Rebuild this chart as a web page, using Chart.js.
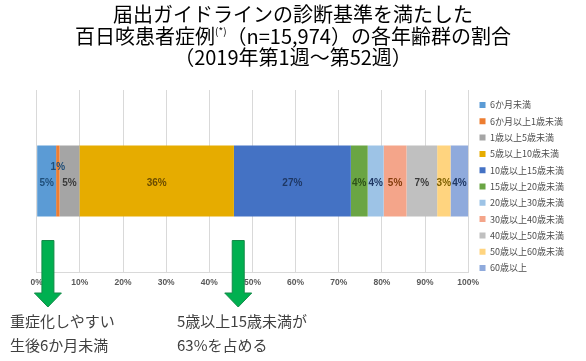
<!DOCTYPE html>
<html><head><meta charset="utf-8">
<script src="https://cdn.jsdelivr.net/npm/chart.js@4"></script>
<style>
html,body{margin:0;padding:0;background:#fff;}
#wrap{position:relative;width:586px;height:361px;overflow:hidden;}
canvas{position:absolute;left:0;top:0;}
.t{position:absolute;left:0;width:586px;text-align:center;font-family:"Noto Sans CJK JP";font-size:20px;line-height:21.5px;color:#000;white-space:nowrap;}
.t sup{font-size:10px;line-height:10px;vertical-align:top;position:relative;top:1px;}
.note{position:absolute;font-family:"Noto Sans CJK JP";font-size:15px;line-height:24px;color:#404040;white-space:nowrap;}
</style></head>
<body><div id="wrap">
<canvas id="c" width="586" height="361"></canvas>
<div class="t" style="top:3px">届出ガイドラインの診断基準を満たした<br>百日咳患者症例<sup>(*)</sup>（n=15,974）の各年齢群の割合<br>（2019年第1週～第52週）</div>
<div class="note" style="left:10px;top:309px">重症化しやすい<br>生後6か月未満</div>
<div class="note" style="left:177px;top:309px">5歳以上15歳未満が<br>63%を占める</div>
</div>
<script>
const categories = ['6か月未満','6か月以上1歳未満','1歳以上5歳未満','5歳以上10歳未満','10歳以上15歳未満','15歳以上20歳未満','20歳以上30歳未満','30歳以上40歳未満','40歳以上50歳未満','50歳以上60歳未満','60歳以上'];
const shares = [4.5, 0.8, 4.6, 35.8, 27.1, 3.9, 3.7, 5.3, 7.1, 3.1, 4.1];
const tickValues = [0,10,20,30,40,50,60,70,80,90,100];
const tickLabels = ['0%','10%','20%','30%','40%','50%','60%','70%','80%','90%','100%'];
const arrowAt = [2.6, 46.7];

const fillColors = ['#5b9bd5','#ed7d31','#a5a5a5','#e6ac00','#4472c4','#6aa544','#9dc3e6','#f4a58a','#c0c0c0','#ffd47f','#8faadc'];
const labelColors = ['#1f4e79','#1f4e79','#3a3a3a','#6b4c00','#1f3864','#2e5218','#1f3864','#843c0c','#3a3a3a','#7f6000','#1f3864'];

const datasets = categories.map((name, i) => ({
  label: name,
  data: [shares[i]],
  backgroundColor: fillColors[i],
  borderWidth: 0,
  barPercentage: 0.39,
  categoryPercentage: 1
}));

const valueLabels = {
  id: 'valueLabels',
  afterDatasetsDraw(chart) {
    const ctx = chart.ctx;
    ctx.save();
    ctx.font = 'bold 10px "Liberation Sans"';
    ctx.textAlign = 'center';
    ctx.textBaseline = 'middle';
    chart.data.datasets.forEach((ds, i) => {
      const bar = chart.getDatasetMeta(i).data[0];
      const cx = (bar.x + bar.base) / 2;
      const w = Math.abs(bar.x - bar.base);
      const txt = Math.round(ds.data[0]) + '%';
      const tw = ctx.measureText(txt).width;
      let y = bar.y + 2.5;
      if (w < tw / 2) y = bar.y - 13.5;
      ctx.fillStyle = labelColors[i];
      ctx.fillText(txt, cx, y);
    });
    ctx.restore();
  }
};

const arrows = {
  id: 'arrows',
  afterDraw(chart) {
    const ctx = chart.ctx;
    const xs = chart.scales.x;
    const b = chart.chartArea.bottom;
    ctx.save();
    arrowAt.forEach(v => {
      const cx = xs.getPixelForValue(v);
      const top = b - 31.5, neck = b + 21, tip = b + 35, sw = 6, hw = 13.5;
      ctx.beginPath();
      ctx.moveTo(cx - sw, top);
      ctx.lineTo(cx + sw, top);
      ctx.lineTo(cx + sw, neck);
      ctx.lineTo(cx + hw, neck);
      ctx.lineTo(cx, tip);
      ctx.lineTo(cx - hw, neck);
      ctx.lineTo(cx - sw, neck);
      ctx.closePath();
      ctx.fillStyle = '#00b050';
      ctx.fill();
      ctx.lineWidth = 1;
      ctx.strokeStyle = '#138a48';
      ctx.stroke();
    });
    ctx.restore();
  }
};

const legendShift = {
  id: 'legendShift',
  afterLayout(chart) {
    const l = chart.legend;
    l.left += 4; l.right += 4;
    l.top += 3.2; l.bottom += 3.2;
  }
};

new Chart(document.getElementById('c'), {
  type: 'bar',
  data: { labels: [''], datasets },
  options: {
    indexAxis: 'y',
    responsive: false,
    animation: false,
    devicePixelRatio: 1,
    layout: { padding: { top: 90, left: 36.7, right: 16, bottom: 0 } },
    scales: {
      x: {
        type: 'linear', min: 0, max: 100, stacked: true,
        afterBuildTicks(s) { s.ticks = tickValues.map(v => ({ value: v })); },
        afterFit(s) { s.height = 89; },
        ticks: {
          callback: (v, i) => tickLabels[i],
          color: '#595959',
          font: { family: 'Liberation Sans', size: 8.5, weight: 'bold' },
          padding: 6, maxRotation: 0, autoSkip: false
        },
        grid: { color: '#d9d9d9', drawTicks: false },
        border: { display: true, color: '#d9d9d9' }
      },
      y: { type: 'category', stacked: true, display: false }
    },
    plugins: {
      legend: {
        position: 'right', align: 'start',
        labels: {
          boxWidth: 6, boxHeight: 6, padding: 7.3,
          font: { family: 'Noto Sans CJK JP', size: 9 },
          color: '#4d4d4d'
        }
      },
      tooltip: { enabled: false },
      title: { display: false }
    }
  },
  plugins: [valueLabels, arrows, legendShift]
});
</script>
</body></html>
